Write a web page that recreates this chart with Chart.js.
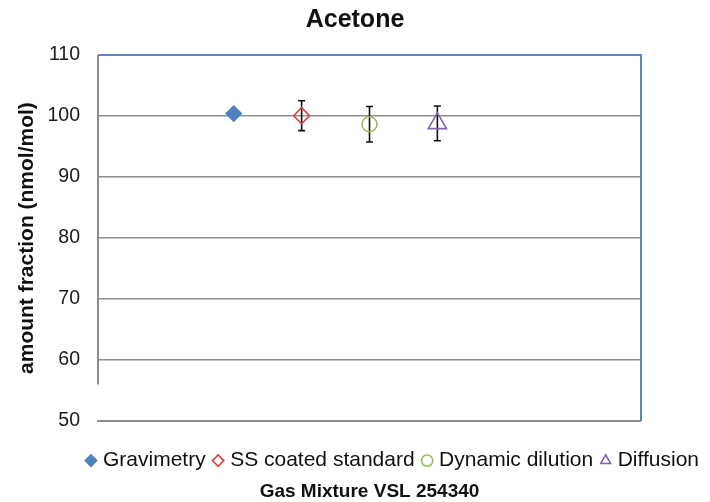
<!DOCTYPE html>
<html><head><meta charset="utf-8">
<script src="https://cdn.jsdelivr.net/npm/chart.js@4"></script>
<style>html,body{margin:0;padding:0;background:#fff}#wrap{width:710px;height:502px}</style>
</head><body><div id="wrap"><canvas id="c" width="710" height="502"></canvas></div>
<script>
const chartTitle = "Acetone";
const xAxisTitle = "Gas Mixture VSL 254340";
const yAxisTitle = "amount fraction (nmol/mol)";
const seriesNames = ["Gravimetry", "SS coated standard", "Dynamic dilution", "Diffusion"];
const xPositions = [2, 3, 4, 5];
const values = [100.4, 100.05, 98.65, 98.8];
const errors = [0.3, 2.45, 2.9, 2.85];
const yTicks = [50, 60, 70, 80, 90, 100, 110];

const colors = ["#4F81BD", "#D9403B", "#9BBB59", "#8064A2"];
const styles = ["rectRot", "rectRot", "circle", "triangle"];
const fills = ["#4F81BD", "rgba(0,0,0,0)", "rgba(0,0,0,0)", "rgba(0,0,0,0)"];
const radii = [7.5, 8, 7.5, 10.5];

const FONT = "'Liberation Sans', Arial, sans-serif";

const datasets = seriesNames.map((name, i) => ({
  label: name,
  data: [{x: xPositions[i], y: values[i]}],
  err: [errors[i]],
  pointStyle: styles[i],
  pointRadius: radii[i],
  pointHoverRadius: radii[i],
  borderColor: colors[i],
  backgroundColor: fills[i],
  pointBorderWidth: 1.6,
  showLine: false
}));

const errorBars = {
  id: 'errorBars',
  beforeDatasetsDraw(chart) {
    const ctx = chart.ctx, ys = chart.scales.y;
    ctx.save();
    ctx.strokeStyle = '#111';
    ctx.lineWidth = 1.6;
    chart.data.datasets.forEach((ds, di) => {
      const meta = chart.getDatasetMeta(di);
      meta.data.forEach((pt, j) => {
        const v = ds.data[j].y, e = ds.err[j];
        const x = pt.x, y1 = ys.getPixelForValue(v + e), y2 = ys.getPixelForValue(v - e);
        const cap = 3.5;
        ctx.beginPath();
        ctx.moveTo(x, y1); ctx.lineTo(x, y2);
        ctx.moveTo(x - cap, y1); ctx.lineTo(x + cap, y1);
        ctx.moveTo(x - cap, y2); ctx.lineTo(x + cap, y2);
        ctx.stroke();
      });
    });
    ctx.restore();
  }
};

const frame = {
  id: 'frame',
  beforeDatasetsDraw(chart) {
    const ctx = chart.ctx, a = chart.chartArea, ys = chart.scales.y;
    ctx.save();
    ctx.lineWidth = 2;
    ctx.strokeStyle = '#8e8e8e';
    ctx.beginPath();
    ctx.moveTo(a.left, a.top);
    ctx.lineTo(a.left, ys.getPixelForValue(56));
    ctx.stroke();
    ctx.beginPath();
    ctx.moveTo(a.left - 1, a.bottom);
    ctx.lineTo(a.right, a.bottom);
    ctx.stroke();
    ctx.strokeStyle = '#5B86C5';
    ctx.beginPath();
    ctx.moveTo(a.left, a.top);
    ctx.lineTo(a.right, a.top);
    ctx.lineTo(a.right, a.bottom);
    ctx.stroke();
    ctx.restore();
  }
};

new Chart(document.getElementById('c'), {
  type: 'scatter',
  data: { datasets },
  options: {
    responsive: false,
    animation: false,
    events: [],
    layout: { padding: { left: 0, right: 0, top: 0, bottom: 0 } },
    scales: {
      x: {
        type: 'linear', min: 0, max: 8, position: 'bottom',
        ticks: { display: false }, grid: { display: false }, border: { display: false },
        afterFit(s) { s.height = 18; }
      },
      r: {
        type: 'linear', position: 'right',
        ticks: { display: false }, grid: { display: false }, border: { display: false },
        afterFit(s) { s.width = 69; }
      },
      y: {
        min: 50, max: 110,
        afterBuildTicks(s) { s.ticks = yTicks.map(v => ({value: v})); },
        afterFit(s) { s.width = 98; },
        border: { display: false },
        grid: { color: '#8e8e8e', lineWidth: 1.6, drawTicks: false },
        ticks: { color: '#1a1a1a', padding: 18, font: { family: FONT, size: 19.5 } },
        title: { display: true, text: yAxisTitle, color: '#111', padding: {top: 15, bottom: 4}, font: { family: FONT, size: 21, weight: 'bold' } }
      }
    },
    plugins: {
      title: { display: true, text: chartTitle, color: '#111', padding: {top: 5, bottom: 20}, font: { family: FONT, size: 25, weight: 'bold' } },
      subtitle: { display: true, fullSize: false, position: 'bottom', text: xAxisTitle, color: '#111', padding: {top: 0, bottom: 0}, font: { family: FONT, size: 19, weight: 'bold', lineHeight: 1.1 } },
      legend: {
        position: 'bottom', align: 'end',
        labels: { usePointStyle: true, boxWidth: 3, boxHeight: 8, padding: 11, color: '#111', font: { family: FONT, size: 21 } }
      },
      tooltip: { enabled: false }
    }
  },
  plugins: [frame, errorBars]
});
</script>
</body></html>
